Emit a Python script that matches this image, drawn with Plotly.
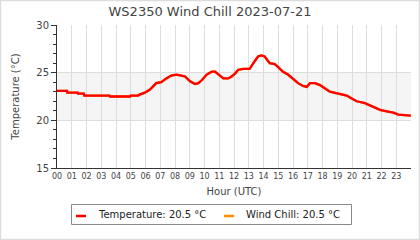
import plotly.graph_objects as go

# Data (hours UTC, °C)
hours = [0.0, 0.68, 0.70, 1.40, 1.42, 1.82, 1.85, 3.55, 3.6, 4.95, 5.0, 5.5,
         5.6, 5.95, 6.28, 6.5, 6.73, 7.07, 7.41, 7.75, 8.09, 8.43, 8.68, 9.02,
         9.36, 9.58, 9.81, 10.15, 10.49, 10.71, 11.05, 11.28, 11.61, 11.84,
         12.07, 12.29, 12.63, 13.06, 13.4, 13.63, 13.85, 14.08, 14.42, 14.76,
         14.98, 15.32, 15.66, 16.0, 16.34, 16.68, 16.93, 17.15, 17.49, 17.83,
         18.17, 18.5, 19.07, 19.64, 19.98, 20.32, 20.88, 21.22, 21.56, 21.9,
         22.35, 22.8, 23.14, 23.59, 23.98]
temperature = [23.1, 23.1, 22.9, 22.9, 22.8, 22.8, 22.6, 22.6, 22.5, 22.5, 22.6, 22.6,
               22.7, 22.9, 23.2, 23.5, 23.9, 24.0, 24.4, 24.7, 24.8, 24.7, 24.6, 24.1,
               23.8, 23.9, 24.2, 24.8, 25.1, 25.1, 24.7, 24.4, 24.4, 24.6,
               24.9, 25.3, 25.4, 25.4, 26.2, 26.7, 26.8, 26.7, 26.0, 25.9,
               25.6, 25.1, 24.8, 24.4, 23.9, 23.6, 23.5, 23.9, 23.9, 23.7,
               23.35, 23.0, 22.8, 22.6, 22.3, 22.0, 21.8, 21.55, 21.3, 21.1,
               20.95, 20.8, 20.6, 20.55, 20.5]
wind_chill = list(temperature)
tick_hours = list(range(24))
tick_labels = [f"{h:02d}" for h in tick_hours]
series_names = ["Temperature", "Wind Chill"]

RED = "#ff0000"
ORANGE = "#ff8c00"
FONT = "DejaVu Sans"

fig = go.Figure()
# wind chill first so temperature draws on top
fig.add_trace(go.Scatter(x=hours, y=wind_chill, mode="lines", name=series_names[1],
                         line=dict(color=ORANGE, width=2.3), showlegend=False,
                         hoverinfo="skip"))
fig.add_trace(go.Scatter(x=hours, y=temperature, mode="lines", name=series_names[0],
                         line=dict(color=RED, width=2.3), showlegend=False,
                         hoverinfo="skip"))

W, H = 420, 240
L, R, T, B = 57, 9, 25, 72
pw, ph = W - L - R, H - T - B

def px_x(p):
    return (p - L) / pw

def px_y(p):
    return (H - B - p) / ph

# compact legend box (drawn in paper coordinates)
leg_x0, leg_x1, leg_y0, leg_y1 = 71.5, 351.5, 204.5, 224.5
leg_mid = (leg_y0 + leg_y1) / 2
legend_items = [
    (f"{series_names[0]}: {temperature[-1]:.1f} °C", RED, 76, 96),
    (f"{series_names[1]}: {wind_chill[-1]:.1f} °C", ORANGE, 224, 244),
]

shapes = [
    dict(type="rect", xref="paper", yref="y", x0=0, x1=1, y0=20, y1=25,
         fillcolor="#f5f5f5", line=dict(width=0), layer="below"),
    dict(type="rect", xref="paper", yref="paper",
         x0=px_x(0.5), x1=px_x(W - 0.5), y0=px_y(H - 0.5), y1=px_y(0.5),
         line=dict(color="#dddddd", width=1.5), fillcolor="rgba(0,0,0,0)",
         layer="above"),
    dict(type="rect", xref="paper", yref="paper",
         x0=px_x(leg_x0), x1=px_x(leg_x1), y0=px_y(leg_y1), y1=px_y(leg_y0),
         line=dict(color="#888888", width=1), fillcolor="white", layer="above"),
]
annotations = []
for text, color, mx, tx in legend_items:
    shapes.append(dict(type="line", xref="paper", yref="paper",
                       x0=px_x(mx), x1=px_x(mx + 10), y0=px_y(leg_mid + 1.5),
                       y1=px_y(leg_mid + 1.5), line=dict(color=color, width=2.5),
                       layer="above"))
    annotations.append(dict(text=text, xref="paper", yref="paper", x=px_x(tx),
                            y=px_y(leg_mid), xanchor="left", yanchor="middle",
                            showarrow=False, font=dict(size=10, color="#222")))

fig.update_layout(
    width=W, height=H,
    margin=dict(l=L, r=R, t=T, b=B, pad=0),
    paper_bgcolor="white", plot_bgcolor="white",
    font=dict(family=FONT, color="#444", size=10),
    showlegend=False,
    title=dict(text="WS2350 Wind Chill 2023-07-21", xref="container", x=0.5,
               xanchor="center", yref="container", y=1 - 11 / H, yanchor="middle",
               font=dict(size=13, color="#444")),
    xaxis=dict(range=[0, 24], tickvals=tick_hours, ticktext=tick_labels,
               ticks="", showline=True, linecolor="#333", linewidth=1,
               showgrid=True, gridcolor="#dddddd", gridwidth=1,
               tickfont=dict(size=8, color="#444"), zeroline=False,
               minor=dict(tickvals=[24], showgrid=True, gridcolor="#dddddd"),
               title=dict(text="Hour (UTC)", font=dict(size=10), standoff=8)),
    yaxis=dict(range=[15, 30], tickvals=[15, 20, 25, 30], ticks="outside",
               ticklen=5, tickcolor="#333", showline=True, linecolor="#333",
               linewidth=1, showgrid=True, gridcolor="#dddddd", zeroline=False,
               tickfont=dict(size=10, color="#444"),
               minor=dict(dtick=1, ticks="outside", ticklen=3, tickcolor="#333",
                          showgrid=False),
               title=dict(text="Temperature (°C)", font=dict(size=10), standoff=14)),
    shapes=shapes,
    annotations=annotations,
)

fig.write_html("out.html")
